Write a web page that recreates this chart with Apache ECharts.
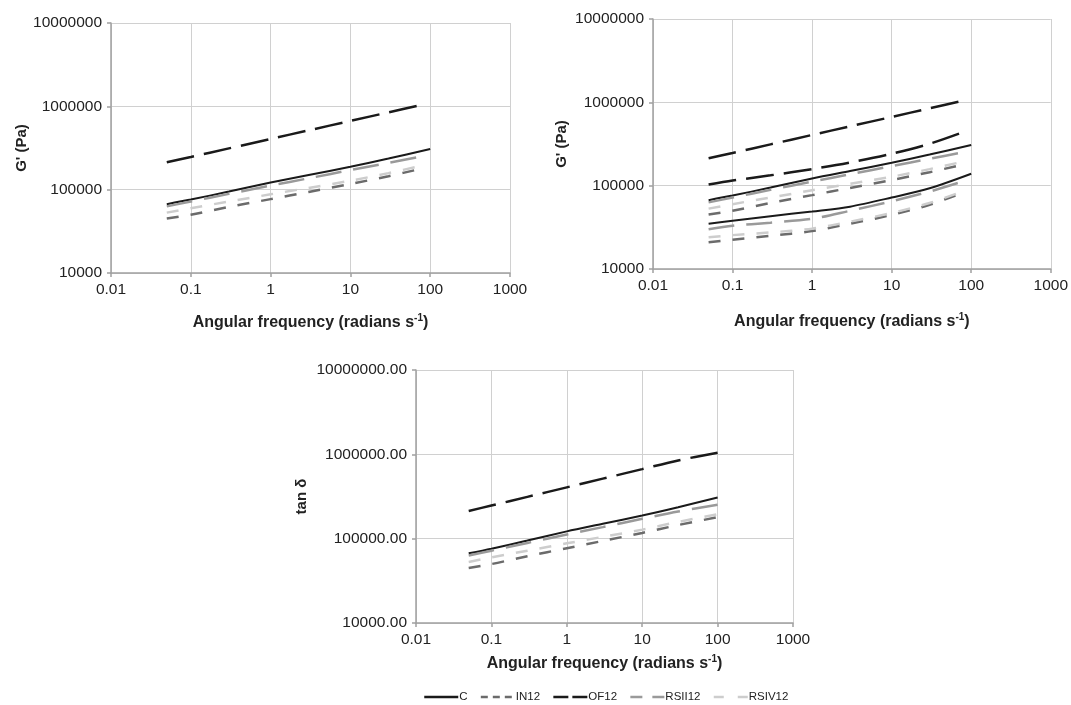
<!DOCTYPE html>
<html>
<head>
<meta charset="utf-8">
<script src="https://cdn.jsdelivr.net/npm/echarts@6/dist/echarts.min.js"></script>
<style>
html, body { margin: 0; padding: 0; background: #fff; }
#main { width: 1071px; height: 705px; }
</style>
</head>
<body>
<div id="main"></div>
<script>
// frequencies (rad/s) - most series stop a bit before 100
let freqShort = [0.05, 0.1, 0.3, 1, 3, 10, 30, 80];
let freqLong = [0.05, 0.1, 0.3, 1, 3, 10, 30, 100];

let xTicks = ['0.01', '0.1', '1', '10', '100', '1000'];
let yTicks = ['10000', '100000', '1000000', '10000000'];

// G' (top-left chart, also top set of the right chart and bottom chart)
let gC = [67000, 76000, 95000, 122000, 150000, 188000, 236000, 308000];
let gIN12 = [45000, 50000, 62000, 77000, 94000, 117000, 145000, 180000];
let gOF12 = [213000, 247000, 313000, 406000, 515000, 668000, 847000, 1047000];
let gRSII12 = [63000, 72000, 89000, 112000, 137000, 172000, 210000, 252000];
let gRSIV12 = [53000, 60000, 72000, 88000, 105000, 128000, 158000, 195000];

// lower set of the right chart
let g2C = [35000, 38000, 43000, 49000, 56000, 72000, 93000, 139000];
let g2IN12 = [21000, 22500, 25000, 28500, 35000, 44500, 59000, 83000];
let g2OF12 = [103000, 115000, 133000, 158000, 190000, 242000, 318000, 440000];
let g2RSII12 = [30000, 33000, 36000, 40000, 50000, 65000, 85000, 113000];
let g2RSIV12 = [24000, 25500, 27500, 30500, 37000, 47000, 62000, 86000];

let names = ['C', 'IN12', 'OF12', 'RSII12', 'RSIV12'];

let styles = {
  'C': {color: '#1a1a1a', width: 2, type: 'solid', legendType: 'solid'},
  'IN12': {color: '#6b6b6b', width: 2.5, type: [12, 12], legendType: [7, 5]},
  'OF12': {color: '#1a1a1a', width: 2.5, type: [28, 10], legendType: [15, 4]},
  'RSII12': {color: '#9a9a9a', width: 2.5, type: [26, 12], legendType: [12, 10]},
  'RSIV12': {color: '#cdcdcd', width: 2.5, type: [12, 12], legendType: [10, 14]}
};

let font = "'Liberation Sans', Arial, Helvetica, sans-serif";

function pairs(xs, ys) {
  return xs.map(function (x, i) { return [x, ys[i]]; });
}

function line(name, idx, xs, ys) {
  let s = styles[name];
  return {
    name: name,
    type: 'line',
    xAxisIndex: idx,
    yAxisIndex: idx,
    data: pairs(xs, ys),
    showSymbol: false,
    symbol: 'none',
    smooth: 0.3,
    itemStyle: {color: s.color},
    lineStyle: {color: s.color, width: s.width, type: s.type}
  };
}

function xAxis(idx, gap) {
  return {
    type: 'log', logBase: 10, gridIndex: idx, min: 0.01, max: 1000,
    name: 'Angular frequency (radians s{sup|-1})',
    nameLocation: 'middle', nameGap: gap,
    nameTextStyle: {
      fontFamily: font, fontSize: 16, fontWeight: 'bold', color: '#222', lineHeight: 19,
      rich: {sup: {fontFamily: font, fontSize: 10, fontWeight: 'bold', color: '#222', verticalAlign: 'top', lineHeight: 19}}
    },
    axisLine: {lineStyle: {color: '#a0a0a0', width: 1.5}},
    axisTick: {show: true, inside: false, length: 4, lineStyle: {color: '#a0a0a0', width: 1.5}},
    minorTick: {show: false},
    splitLine: {show: true, lineStyle: {color: '#d0d0d0', width: 1}},
    axisLabel: {
      fontFamily: font, fontSize: 15.5, color: '#222', margin: 9,
      formatter: function (v) {
        let k = Math.round(Math.log10(v)) + 2;
        return xTicks[k] || String(+v.toPrecision(3));
      }
    }
  };
}

function yAxis(idx, title, gap, decimals) {
  return {
    type: 'log', logBase: 10, gridIndex: idx, min: 10000, max: 10000000,
    name: title, nameLocation: 'middle', nameGap: gap, nameRotate: 90,
    nameTextStyle: {fontFamily: font, fontSize: 15, fontWeight: 'bold', color: '#222'},
    axisLine: {show: true, lineStyle: {color: '#a0a0a0', width: 1.5}},
    axisTick: {show: true, inside: false, length: 4, lineStyle: {color: '#a0a0a0', width: 1.5}},
    minorTick: {show: false},
    splitLine: {show: true, lineStyle: {color: '#d0d0d0', width: 1}},
    axisLabel: {
      fontFamily: font, fontSize: 15.5, color: '#222', margin: 9,
      formatter: function (v) {
        let k = Math.round(Math.log10(v)) - 4;
        let t = yTicks[k] || String(Math.round(v));
        return decimals ? t + '.00' : t;
      }
    }
  };
}

let chart = echarts.init(document.getElementById('main'), null, {renderer: 'canvas'});

let series = [];
// top-left
series.push(line('C', 0, freqLong, gC));
series.push(line('IN12', 0, freqShort, gIN12));
series.push(line('OF12', 0, freqShort, gOF12));
series.push(line('RSII12', 0, freqShort, gRSII12));
series.push(line('RSIV12', 0, freqShort, gRSIV12));
// top-right, two sets
series.push(line('C', 1, freqLong, gC));
series.push(line('IN12', 1, freqShort, gIN12));
series.push(line('OF12', 1, freqShort, gOF12));
series.push(line('RSII12', 1, freqShort, gRSII12));
series.push(line('RSIV12', 1, freqShort, gRSIV12));
series.push(line('C', 1, freqLong, g2C));
series.push(line('IN12', 1, freqShort, g2IN12));
series.push(line('OF12', 1, freqShort, g2OF12));
series.push(line('RSII12', 1, freqShort, g2RSII12));
series.push(line('RSIV12', 1, freqShort, g2RSIV12));
// bottom (all end at 100)
series.push(line('C', 2, freqLong, gC));
series.push(line('IN12', 2, freqLong, gIN12));
series.push(line('OF12', 2, freqLong, gOF12));
series.push(line('RSII12', 2, freqLong, gRSII12));
series.push(line('RSIV12', 2, freqLong, gRSIV12));

let legendData = names.map(function (n) {
  return {name: n, lineStyle: {type: styles[n].legendType, width: 2.5}};
});

let option = {
  backgroundColor: '#ffffff',
  animation: false,
  grid: [
    {left: 111, top: 23, width: 399, height: 250},
    {left: 653, top: 19, width: 399, height: 250},
    {left: 416, top: 370, width: 377, height: 253}
  ],
  xAxis: [xAxis(0, 40), xAxis(1, 43), xAxis(2, 31)],
  yAxis: [
    yAxis(0, "G' (Pa)", 75, false),
    yAxis(1, "G' (Pa)", 84, false),
    yAxis(2, 'tan δ', 107, true)
  ],
  legend: {
    data: legendData,
    left: 418, top: 686,
    itemWidth: 34, itemHeight: 10, itemGap: 12,
    itemStyle: {opacity: 0},
    textStyle: {fontFamily: font, fontSize: 11.5, color: '#222', padding: [0, 0, 0, -4]}
  },
  series: series
};

chart.setOption(option);
</script>
</body>
</html>
